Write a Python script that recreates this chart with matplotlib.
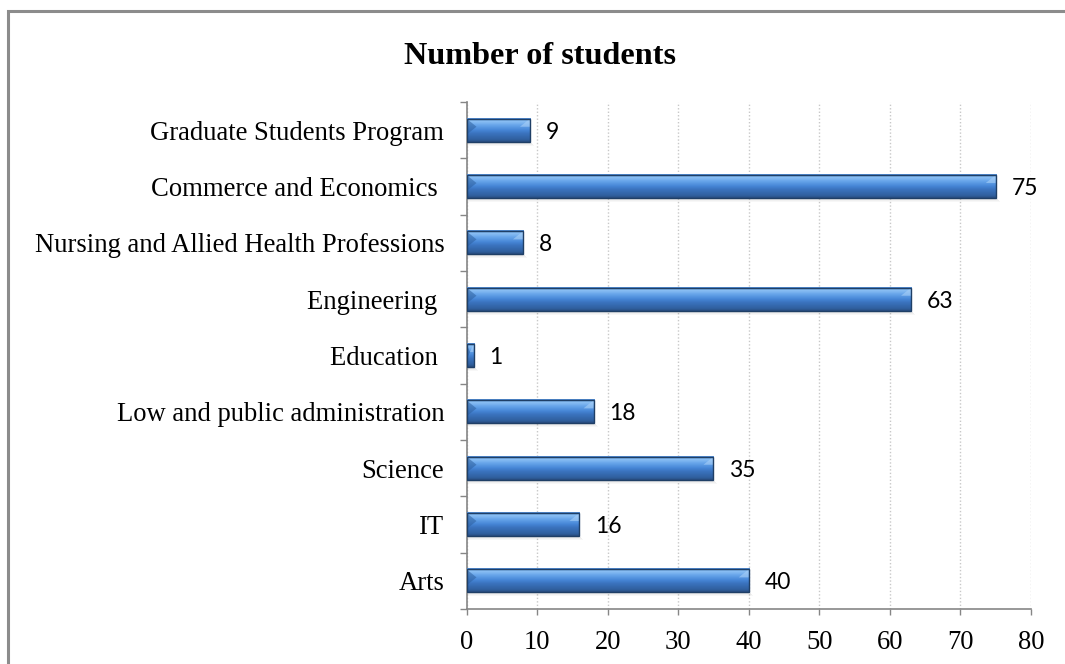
import matplotlib
matplotlib.use("Agg")
import matplotlib.pyplot as plt
import numpy as np
from matplotlib.colors import LinearSegmentedColormap
from matplotlib.patches import Rectangle, Polygon

categories = ["Arts", "IT", "Science", "Low and public administration", "Education ",
              "Engineering ", "Nursing and Allied Health Professions",
              "Commerce and Economics ", "Graduate Students Program"]
values = [40, 16, 35, 18, 1, 63, 8, 75, 9]
xticks = [0, 10, 20, 30, 40, 50, 60, 70, 80]
title = "Number of students"

W, H, DPI = 1065, 664, 100
fig = plt.figure(figsize=(W / DPI, H / DPI), dpi=DPI)
ax = fig.add_axes([466.5 / W, 1 - 609 / H, (1031 - 466.5) / W, (609 - 102) / H])

serif = "Liberation Serif"
gray = "#868686"

n = len(categories)
ax.set_xlim(0, 80)
ax.set_ylim(-0.5, n - 0.5)

cmap = LinearSegmentedColormap.from_list(
    "bar", [(0.0, "#4a86d0"), (0.12, "#8cc0f4"), (0.3, "#66a4ea"),
            (0.5, "#4686d6"), (0.65, "#3a72bd"), (0.9, "#30609f"), (1.0, "#284d80")])
grad = np.linspace(0, 1, 64).reshape(-1, 1)

h = 0.41
px = 80 / (1031 - 466.5)  # data units per pixel in x
py = (n) / (609 - 102)     # data units per pixel in y
for i, v in enumerate(values):
    y0, y1 = i - h / 2, i + h / 2
    # shadow
    for k, a in enumerate([0.14, 0.09, 0.06, 0.03]):
        ax.add_patch(Rectangle((0, y0 - py * (k + 1)), v + px * (k + 1), py,
                               facecolor="#000000", alpha=a, edgecolor="none", zorder=2))
    ax.imshow(grad, cmap=cmap, aspect="auto", extent=(0, v, y0, y1),
              origin="upper", zorder=3, interpolation="bilinear")
    bw = min(10 * px, v / 2)
    bh = h * 0.35
    # left bevel (darker wedge)
    ax.add_patch(Polygon([(0, y1), (bw, y1 - bh), (0, y1 - 2 * bh)], closed=True,
                         facecolor="#2d5f9e", alpha=0.55, edgecolor="none", zorder=4))
    # right bevel (light wedge at top right)
    ax.add_patch(Polygon([(v, y1), (v - bw, y1 - bh), (v, y1 - bh)], closed=True,
                         facecolor="#a9d0f7", alpha=0.6, edgecolor="none", zorder=4))
    ax.add_patch(Rectangle((0, y0), v, h, facecolor="none", edgecolor="#1f3f66",
                           linewidth=1.0, zorder=5))
    ax.text(v + 16 * px, i - 2 * py, str(v), va="center", ha="left", fontsize=16.5,
            family=["Lato", "DejaVu Sans"], color="#000000", zorder=6)

ax.set_xticks(xticks)
ax.set_xticklabels([str(t) for t in xticks], fontsize=19.2, family=serif)
ax.set_yticks(np.arange(n))
ax.set_yticklabels(categories, fontsize=19.2, family=serif)
ax.tick_params(axis="y", length=0, pad=16)
ax.set_yticks(np.arange(n + 1) - 0.5, minor=True)
ax.tick_params(axis="y", which="minor", length=5, width=1, color=gray)
ax.tick_params(axis="x", length=4.5, width=1, color=gray, pad=10.5)

ax.grid(axis="x", color="#c8c8c8", linestyle=(0, (1, 1.5)), linewidth=1, zorder=0)
ax.set_axisbelow(True)
for s in ["top", "right"]:
    ax.spines[s].set_visible(False)
for s in ["left", "bottom"]:
    ax.spines[s].set_color(gray)
    ax.spines[s].set_linewidth(1.2)

fig.text(540 / W, 1 - 56 / H, title, ha="center", va="center", fontsize=23.2,
         fontweight="bold", family=serif)

# outer border (right and bottom edges fall outside the image)
fig.patches.append(Rectangle((7.5 / W, -0.1), 1.2, 1 - 11 / H + 0.1,
                             transform=fig.transFigure, facecolor="none",
                             edgecolor="#8c8c8c", linewidth=2.2))

fig.savefig("out.png", dpi=DPI)
